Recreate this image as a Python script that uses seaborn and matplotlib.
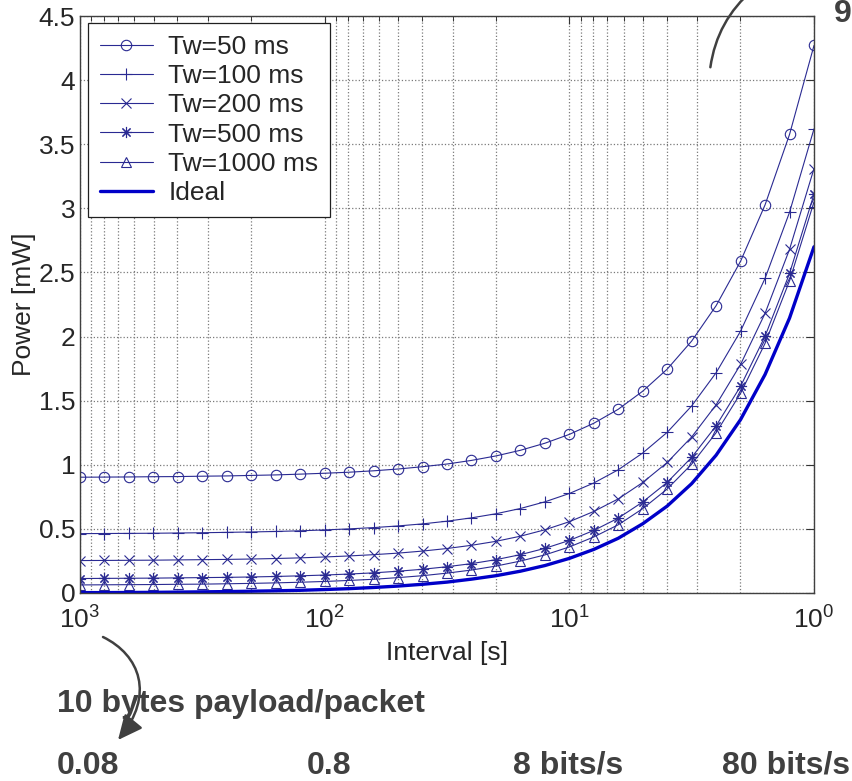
import matplotlib
matplotlib.use("Agg")
import matplotlib.pyplot as plt
import seaborn as sns
from matplotlib.patches import FancyArrowPatch
from matplotlib.path import Path
from matplotlib.ticker import FormatStrFormatter, FixedLocator

# interval [s], one point every 0.1 decade from 1000 s down to 1 s
interval = [1000, 794.3, 631.0, 501.2, 398.1, 316.2, 251.2, 199.5, 158.5, 125.9,
            100, 79.43, 63.10, 50.12, 39.81, 31.62, 25.12, 19.95, 15.85, 12.59,
            10, 7.943, 6.310, 5.012, 3.981, 3.162, 2.512, 1.995, 1.585, 1.259, 1]

# power [mW]
p_tw50 = [0.903, 0.904, 0.905, 0.907, 0.908, 0.911, 0.913, 0.917, 0.921, 0.927,
          0.934, 0.942, 0.953, 0.967, 0.985, 1.006, 1.034, 1.069, 1.113, 1.168,
          1.237, 1.324, 1.433, 1.574, 1.746, 1.965, 2.241, 2.588, 3.027, 3.576, 4.27]
p_tw100 = [0.463, 0.464, 0.465, 0.466, 0.468, 0.470, 0.473, 0.476, 0.480, 0.485,
           0.492, 0.500, 0.510, 0.523, 0.539, 0.560, 0.586, 0.618, 0.659, 0.711,
           0.776, 0.858, 0.961, 1.092, 1.253, 1.459, 1.718, 2.043, 2.454, 2.969, 3.62]
p_tw200 = [0.253, 0.254, 0.255, 0.256, 0.258, 0.260, 0.262, 0.265, 0.269, 0.274,
           0.281, 0.289, 0.299, 0.311, 0.327, 0.347, 0.372, 0.403, 0.443, 0.493,
           0.556, 0.636, 0.734, 0.862, 1.018, 1.217, 1.468, 1.783, 2.181, 2.680, 3.31]
p_tw500 = [0.113, 0.114, 0.115, 0.116, 0.118, 0.120, 0.122, 0.125, 0.129, 0.134,
           0.140, 0.148, 0.157, 0.170, 0.185, 0.205, 0.229, 0.260, 0.299, 0.348,
           0.410, 0.488, 0.584, 0.710, 0.863, 1.058, 1.304, 1.613, 2.003, 2.492, 3.11]
p_tw1000 = [0.063, 0.064, 0.065, 0.066, 0.068, 0.069, 0.072, 0.075, 0.079, 0.084,
            0.090, 0.098, 0.107, 0.120, 0.135, 0.155, 0.179, 0.210, 0.249, 0.297,
            0.359, 0.437, 0.532, 0.658, 0.811, 1.005, 1.250, 1.558, 1.947, 2.434, 3.05]
p_ideal = [0.003, 0.003, 0.004, 0.005, 0.007, 0.009, 0.011, 0.014, 0.017, 0.021,
           0.027, 0.034, 0.043, 0.054, 0.068, 0.085, 0.108, 0.135, 0.170, 0.214,
           0.270, 0.340, 0.427, 0.540, 0.678, 0.853, 1.075, 1.353, 1.704, 2.144, 2.70]

labels = ["Tw=50 ms", "Tw=100 ms", "Tw=200 ms", "Tw=500 ms", "Tw=1000 ms"]
series = [p_tw50, p_tw100, p_tw200, p_tw500, p_tw1000]
markers = ["o", "+", "x", (8, 2, 0), "^"]
msizes = [7.5, 9, 6.5, 8, 7.5]

bottom_notes = [("0.08", 57), ("0.8", 307), ("8 bits/s", 513), ("80 bits/s", 722)]

W, H = 852, 781


def px(x, y):
    # pixel position (from top left) -> figure fraction
    return x / W, 1 - y / H


sns.set_theme(style="white")
plt.rcParams["font.family"] = ["Liberation Sans", "DejaVu Sans"]
plt.rcParams["mathtext.fontset"] = "custom"
plt.rcParams["mathtext.rm"] = "Liberation Sans"
plt.rcParams["mathtext.it"] = "Liberation Sans:italic"

fig = plt.figure(figsize=(W / 100, H / 100), dpi=100)
ax = fig.add_axes([80 / W, 1 - 593 / H, 734 / W, 577 / H])

line_col = "#2a2a92"
for y, lab, m, ms in zip(series, labels, markers, msizes):
    sns.lineplot(x=interval, y=y, ax=ax, label=lab, color=line_col, lw=0.8,
                 marker=m, ms=ms, mfc="none", mec=line_col, mew=0.8, sort=False)
sns.lineplot(x=interval, y=p_ideal, ax=ax, label="Ideal", color="#0000c8",
             lw=2.4, sort=False)

ax.set_xscale("log")
ax.set_xlim(1000, 1)
ax.set_ylim(0, 4.5)
ax.yaxis.set_major_locator(FixedLocator([i * 0.5 for i in range(10)]))
ax.yaxis.set_major_formatter(FormatStrFormatter("%g"))

ax.grid(True, which="both", axis="x", ls=":", color="#7a7a7a", lw=0.9)
ax.grid(True, which="major", axis="y", ls=":", color="#7a7a7a", lw=0.9)
ax.tick_params(which="both", direction="in", top=True, right=True,
               labelsize=19, color="#333333")
ax.tick_params(which="major", length=6, width=0.8)
ax.tick_params(which="minor", length=3.5, width=0.7)
ax.tick_params(axis="x", which="both", pad=10)
for sp in ax.spines.values():
    sp.set_color("#404040")
    sp.set_linewidth(1.0)

ax.set_xlabel("Interval [s]", fontsize=19, labelpad=5)
ax.set_ylabel("Power [mW]", fontsize=19, labelpad=2)

leg = ax.legend(loc="upper left", bbox_to_anchor=px(88, 23), bbox_transform=fig.transFigure,
                borderaxespad=0, fontsize=19, handlelength=2.0, labelspacing=0.2,
                borderpad=0.45, handletextpad=0.6, fancybox=False, framealpha=1,
                edgecolor="#202020")
leg.get_frame().set_linewidth(0.9)

note_col = "#404040"
fig.text(*px(57, 712), "10 bytes payload/packet", fontsize=23, fontweight="bold",
         color=note_col, va="baseline", ha="left")
for txt, x0 in bottom_notes:
    fig.text(*px(x0, 774), txt, fontsize=23, fontweight="bold",
             color=note_col, va="baseline", ha="left")
fig.text(*px(834, 22), "9", fontsize=23, fontweight="bold", color=note_col,
         va="baseline", ha="left")

# curved pointer from the 10^3 tick down to "0.08"
verts = [px(103, 637), px(140, 655), px(155, 695), px(118, 740)]
arrow = FancyArrowPatch(path=Path(verts, [Path.MOVETO, Path.CURVE4, Path.CURVE4, Path.CURVE4]),
                        transform=fig.transFigure,
                        arrowstyle="-|>,head_length=0.75,head_width=0.35",
                        mutation_scale=20, color=note_col, lw=1.8)
fig.add_artist(arrow)
curve = FancyArrowPatch(px(710, 70), px(755, -12), transform=fig.transFigure,
                        connectionstyle="arc3,rad=-0.2", arrowstyle="-",
                        color=note_col, lw=1.8)
fig.add_artist(curve)

fig.savefig("out.png", dpi=100)
